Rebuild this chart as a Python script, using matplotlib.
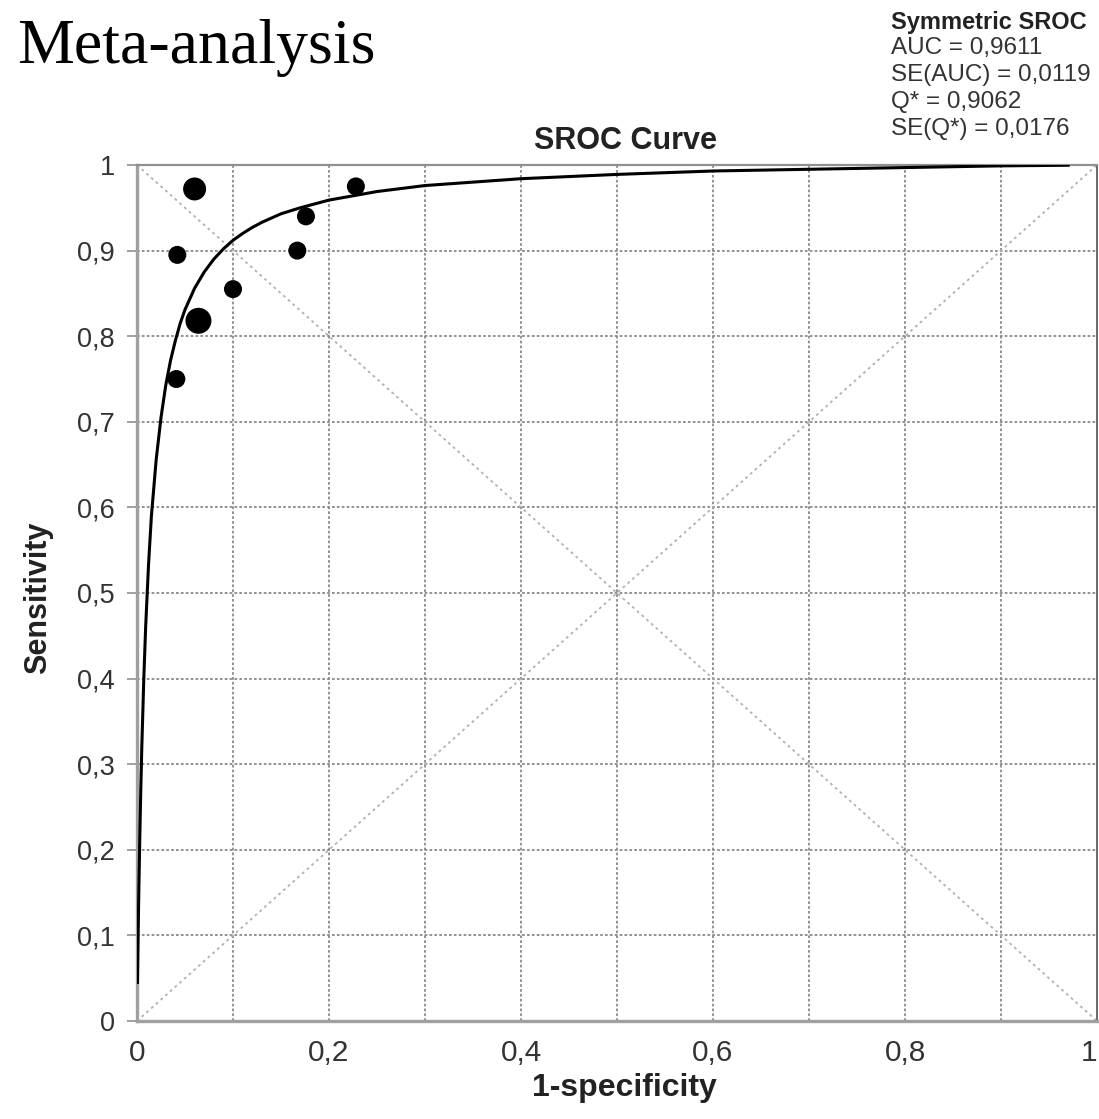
import matplotlib
matplotlib.use("Agg")
import matplotlib.pyplot as plt

# ---- data ----
study_fpr = [0.060, 0.042, 0.100, 0.064, 0.041, 0.167, 0.176, 0.228]
study_sens = [0.972, 0.895, 0.855, 0.818, 0.750, 0.900, 0.940, 0.975]
study_size = [274, 168, 168, 350, 168, 168, 168, 168]

curve_fpr = [0.0005, 0.0007, 0.001, 0.0015, 0.002, 0.003, 0.004, 0.005, 0.007,
             0.009, 0.012, 0.015, 0.02, 0.025, 0.03, 0.035, 0.04, 0.045, 0.05,
             0.06, 0.07, 0.08, 0.09, 0.10, 0.11, 0.12, 0.13, 0.15, 0.17, 0.2,
             0.25, 0.3, 0.35, 0.4, 0.5, 0.6, 0.7, 0.8, 0.9, 0.97]
curve_sens = [0.045, 0.062, 0.086, 0.124, 0.158, 0.22, 0.273, 0.32, 0.397,
              0.46, 0.533, 0.59, 0.656, 0.705, 0.743, 0.772, 0.795, 0.815, 0.831,
              0.856, 0.875, 0.89, 0.902, 0.912, 0.920, 0.927, 0.933, 0.943, 0.950, 0.959,
              0.969, 0.976, 0.980, 0.984, 0.989, 0.993, 0.995, 0.997, 0.999, 0.9997]

tick_values = [0, 0.1, 0.2, 0.3, 0.4, 0.5, 0.6, 0.7, 0.8, 0.9, 1]
y_tick_labels = ["0", "0,1", "0,2", "0,3", "0,4", "0,5", "0,6", "0,7", "0,8", "0,9", "1"]
x_tick_values = [0, 0.2, 0.4, 0.6, 0.8, 1]
x_tick_labels = ["0", "0,2", "0,4", "0,6", "0,8", "1"]

stats_title = "Symmetric SROC"
stats_lines = ["AUC = 0,9611", "SE(AUC) = 0,0119", "Q* = 0,9062", "SE(Q*) = 0,0176"]

# ---- figure ----
W, H = 1099, 1119
fig = plt.figure(figsize=(W / 100, H / 100), dpi=100)
plt.rcParams['font.family'] = ['Liberation Sans', 'DejaVu Sans']

ax = fig.add_axes([137 / W, 1 - 1021 / H, (1097 - 137) / W, (1021 - 165) / H])
ax.set_xlim(0, 1)
ax.set_ylim(0, 1)

# grid
for v in tick_values[1:-1]:
    ax.axvline(v, color='#8a8a8a', lw=1.3, ls=(0, (1.5, 1.2)), zorder=1)
    ax.axhline(v, color='#8a8a8a', lw=1.3, ls=(0, (1.5, 1.2)), zorder=1)
# diagonals
ax.plot([0, 1], [0, 1], color='#b0b0b0', lw=1.3, ls=(0, (1.5, 2)), zorder=1)
ax.plot([0, 1], [1, 0], color='#b0b0b0', lw=1.3, ls=(0, (1.5, 2)), zorder=1)

# SROC curve
ax.plot(curve_fpr, curve_sens, color='black', lw=2.2, zorder=3,
        solid_joinstyle='round')

# studies
ax.scatter(study_fpr, study_sens, s=study_size, color='black', zorder=4, linewidths=0)

# spines
for side in ['left', 'bottom']:
    ax.spines[side].set_color('#a0a0a0')
    ax.spines[side].set_linewidth(2.4)
ax.spines['top'].set_color('#909090')
ax.spines['top'].set_linewidth(1.6)
ax.spines['right'].set_color('#505050')
ax.spines['right'].set_linewidth(1.2)

ax.set_yticks(tick_values)
ax.set_yticklabels(y_tick_labels, fontsize=19.5, color='#333333')
ax.set_xticks(x_tick_values)
ax.set_xticklabels(x_tick_labels, fontsize=21.5, color='#333333')
ax.get_xticklabels()[-1].set_horizontalalignment('right')
ax.tick_params(axis='y', length=7, width=1.2, color='#909090', pad=9)
ax.tick_params(axis='x', length=0, pad=13)

# labels
fig.text(625 / W, 1 - 141 / H, "SROC Curve", ha='center', va='center',
         fontsize=22, fontweight='bold', color='#222222')
fig.text(624 / W, 1 - 1088 / H, "1-specificity", ha='center', va='center',
         fontsize=23, fontweight='bold', color='#222222')
fig.text(38 / W, 1 - 598 / H, "Sensitivity", ha='center', va='center',
         rotation=90, fontsize=22, fontweight='bold', color='#222222')

# headline
fig.text(17 / W, 1 - 63 / H, "Meta-analysis", ha='left', va='baseline',
         fontsize=46, family=['Liberation Serif', 'DejaVu Serif'], color='black')

# statistics block
fig.text(891 / W, 1 - 22 / H, stats_title, ha='left', va='center',
         fontsize=17, fontweight='bold', color='#222222')
for i, line in enumerate(stats_lines):
    fig.text(891 / W, 1 - [48, 75, 102, 129][i] / H, line, ha='left', va='center',
             fontsize=17.5, color='#333333')

fig.savefig("out.png", dpi=100)
